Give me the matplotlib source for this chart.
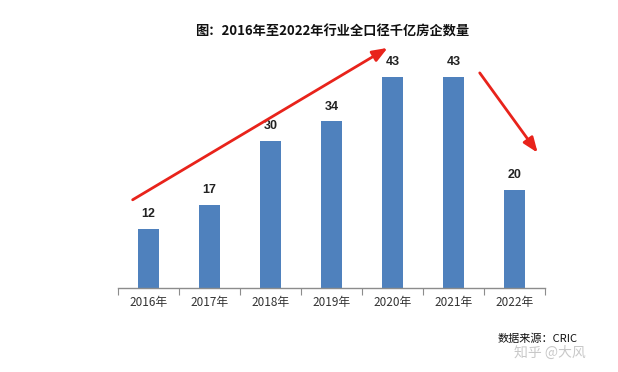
import matplotlib
matplotlib.use("Agg")
import matplotlib.pyplot as plt
import numpy as np

plt.rcParams['font.family'] = ['Noto Sans CJK SC', 'DejaVu Sans']

years = ["2016年", "2017年", "2018年", "2019年", "2020年", "2021年", "2022年"]
counts = [12, 17, 30, 34, 43, 43, 20]
title = "图：2016年至2022年行业全口径千亿房企数量"
source = "数据来源：CRIC"
watermark = "知乎 @大风"

fig = plt.figure(figsize=(6.18, 3.72), dpi=100)
ax = fig.add_axes([118/618, 1-288/372, (545-118)/618, (288-43)/372])

x = np.arange(len(years))
bars = ax.bar(x, counts, width=0.33, color='#4f81bd', zorder=2)
for xi, v in zip(x, counts):
    ax.text(xi, v + 1.8, str(v), ha='center', va='bottom', fontsize=9,
            fontweight='bold', family=['Liberation Sans', 'DejaVu Sans'], color='#222222')

ax.set_xlim(-0.5, len(years) - 0.5)
ax.set_ylim(0, 50)
ax.set_yticks([])
for s in ['top', 'right', 'left']:
    ax.spines[s].set_visible(False)
ax.spines['bottom'].set_color('#8c8c8c')
ax.spines['bottom'].set_linewidth(1.0)
ax.set_xticks(np.arange(-0.5, len(years)), minor=False)
ax.set_xticklabels([])
ax.tick_params(axis='x', which='major', length=5, color='#8c8c8c', direction='out')
ax.set_xticks(x, minor=True)
ax.set_xticklabels(years, minor=True, fontsize=8.5, color='#333333')
ax.tick_params(axis='x', which='minor', length=0, pad=6)

# trend arrows
ax.annotate('', xy=(3.92, 49.0), xytext=(-0.26, 18.0),
            arrowprops=dict(arrowstyle='-|>,head_length=0.9,head_width=0.35',
                            color='#e8231b', lw=2.0, shrinkA=0, shrinkB=0),
            annotation_clip=False)
ax.annotate('', xy=(6.38, 27.6), xytext=(5.43, 43.9),
            arrowprops=dict(arrowstyle='-|>,head_length=0.9,head_width=0.35',
                            color='#e8231b', lw=2.0, shrinkA=0, shrinkB=0),
            annotation_clip=False)

fig.text(332/618, 1-32/372, title, ha='center', va='center', fontsize=9.5,
         fontweight='bold', color='#111111')
fig.text(498/618, 1-339/372, source, ha='left', va='center', fontsize=8, color='#111111')
fig.text(514/618, 1-353/372, watermark, ha='left', va='center', fontsize=10,
         color='#bbbbbb', alpha=0.8)

fig.savefig('out.png', dpi=100)
